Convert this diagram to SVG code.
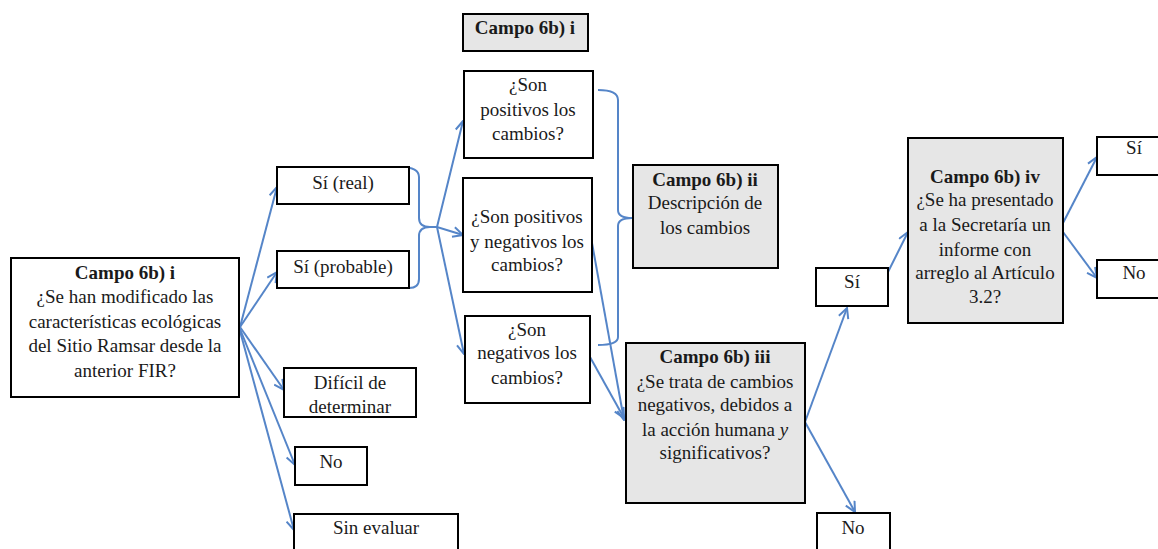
<svg xmlns="http://www.w3.org/2000/svg" width="1158" height="549" viewBox="0 0 1158 549">
<style>
.box{fill:#ffffff;stroke:#000;stroke-width:2}
.gbox{fill:#e6e6e6;stroke:#000;stroke-width:2}
text{font-family:"Liberation Serif","Times New Roman",serif;font-size:19px;fill:#1a1a1a;text-anchor:middle}
.b{font-weight:bold}
.c{fill:none;stroke:#5585c8;stroke-width:2}
</style>
<defs>
<marker id="ah" viewBox="0 0 12 12" refX="11" refY="6" markerWidth="12" markerHeight="12" markerUnits="userSpaceOnUse" orient="auto">
<polyline points="1,1 11,6 1,11" fill="none" stroke="#5585c8" stroke-width="2"/>
</marker>
</defs>
<g id="connectors">
<path class="c" d="M240 327 L277 187" marker-end="url(#ah)"/>
<path class="c" d="M240 327 L277 272" marker-end="url(#ah)"/>
<path class="c" d="M240 327 L284 390" marker-end="url(#ah)"/>
<path class="c" d="M240 329 L295 465" marker-end="url(#ah)"/>
<path class="c" d="M240 331 L294 530" marker-end="url(#ah)"/>
<path class="c" d="M400 167 Q419 167 419 177 L419 218 Q419 227 430 227 Q419 227 419 236 L419 279 Q419 288 409 288"/>
<path class="c" d="M430 227 L437 227 L463 121" marker-end="url(#ah)"/>
<path class="c" d="M430 227 L437 227 L463 235" marker-end="url(#ah)"/>
<path class="c" d="M437 227 L464 354" marker-end="url(#ah)"/>
<path class="c" d="M598 90 Q618 90 618 100 L618 210 Q618 218 632 218 Q618 218 618 226 L618 337 Q618 345 598 345"/>
<path class="c" d="M592 243 L624 420" marker-end="url(#ah)"/>
<path class="c" d="M590 357 L624 418" marker-end="url(#ah)"/>
<path class="c" d="M805 422 L847 308" marker-end="url(#ah)"/>
<path class="c" d="M805 422 L855 512" marker-end="url(#ah)"/>
<path class="c" d="M888 272 L908 232" marker-end="url(#ah)"/>
<path class="c" d="M1063 223 L1097 157" marker-end="url(#ah)"/>
<path class="c" d="M1063 232 L1097 278" marker-end="url(#ah)"/>
</g>
<g id="n-main">
<rect class="box" x="11" y="258" width="228" height="139"/>
<text x="125" y="279" class="b">Campo 6b) i</text>
<text x="125" y="303">¿Se han modificado las</text>
<text x="125" y="328">características ecológicas</text>
<text x="125" y="352">del Sitio Ramsar desde la</text>
<text x="125" y="377">anterior FIR?</text>
</g>
<g id="n-sireal">
<rect class="box" x="277" y="167" width="132" height="37"/>
<text x="343" y="189">Sí (real)</text>
</g>
<g id="n-siprob">
<rect class="box" x="277" y="251" width="132" height="37"/>
<text x="343" y="273">Sí (probable)</text>
</g>
<g id="n-dificil">
<rect class="box" x="284" y="368" width="132" height="49"/>
<text x="350" y="389">Difícil de</text>
<text x="350" y="413">determinar</text>
</g>
<g id="n-no1">
<rect class="box" x="295" y="447" width="72" height="38"/>
<text x="331" y="468">No</text>
</g>
<g id="n-sineval">
<rect class="box" x="294" y="514" width="164" height="40"/>
<text x="376" y="534">Sin evaluar</text>
</g>
<g id="n-hdr">
<rect class="gbox" x="463" y="14" width="125" height="37"/>
<text x="525" y="34" class="b">Campo 6b) i</text>
</g>
<g id="n-pos">
<rect class="box" x="464" y="71" width="129" height="87"/>
<text x="528" y="91">¿Son</text>
<text x="528" y="116">positivos los</text>
<text x="528" y="140">cambios?</text>
</g>
<g id="n-posneg">
<rect class="box" x="463" y="178" width="129" height="114"/>
<text x="527" y="223">¿Son positivos</text>
<text x="527" y="248">y negativos los</text>
<text x="527" y="271">cambios?</text>
</g>
<g id="n-neg">
<rect class="box" x="465" y="316" width="125" height="87"/>
<text x="527" y="336">¿Son</text>
<text x="527" y="359">negativos los</text>
<text x="527" y="384">cambios?</text>
</g>
<g id="n-ii">
<rect class="gbox" x="633" y="165" width="145" height="103"/>
<text x="705" y="186" class="b">Campo 6b) ii</text>
<text x="705" y="209">Descripción de</text>
<text x="705" y="234">los cambios</text>
</g>
<g id="n-iii">
<rect class="gbox" x="626" y="343" width="179" height="160"/>
<text x="715" y="363" class="b">Campo 6b) iii</text>
<text x="715" y="388">¿Se trata de cambios</text>
<text x="715" y="411">negativos, debidos a</text>
<text x="715" y="436">la acción humana <tspan font-style="italic">y</tspan></text>
<text x="715" y="459">significativos?</text>
</g>
<g id="n-si2">
<rect class="box" x="816" y="268" width="72" height="38"/>
<text x="852" y="288">Sí</text>
</g>
<g id="n-no2">
<rect class="box" x="817" y="513" width="73" height="40"/>
<text x="853" y="534">No</text>
</g>
<g id="n-iv">
<rect class="gbox" x="908" y="138" width="155" height="185"/>
<text x="985" y="183" class="b">Campo 6b) iv</text>
<text x="985" y="206">¿Se ha presentado</text>
<text x="985" y="231">a la Secretaría un</text>
<text x="985" y="256">informe con</text>
<text x="985" y="279">arreglo al Artículo</text>
<text x="985" y="303">3.2?</text>
</g>
<g id="n-si3">
<rect class="box" x="1097" y="137" width="70" height="38"/>
<text x="1134" y="154">Sí</text>
</g>
<g id="n-no3">
<rect class="box" x="1097" y="260" width="70" height="38"/>
<text x="1134" y="279">No</text>
</g>
</svg>
